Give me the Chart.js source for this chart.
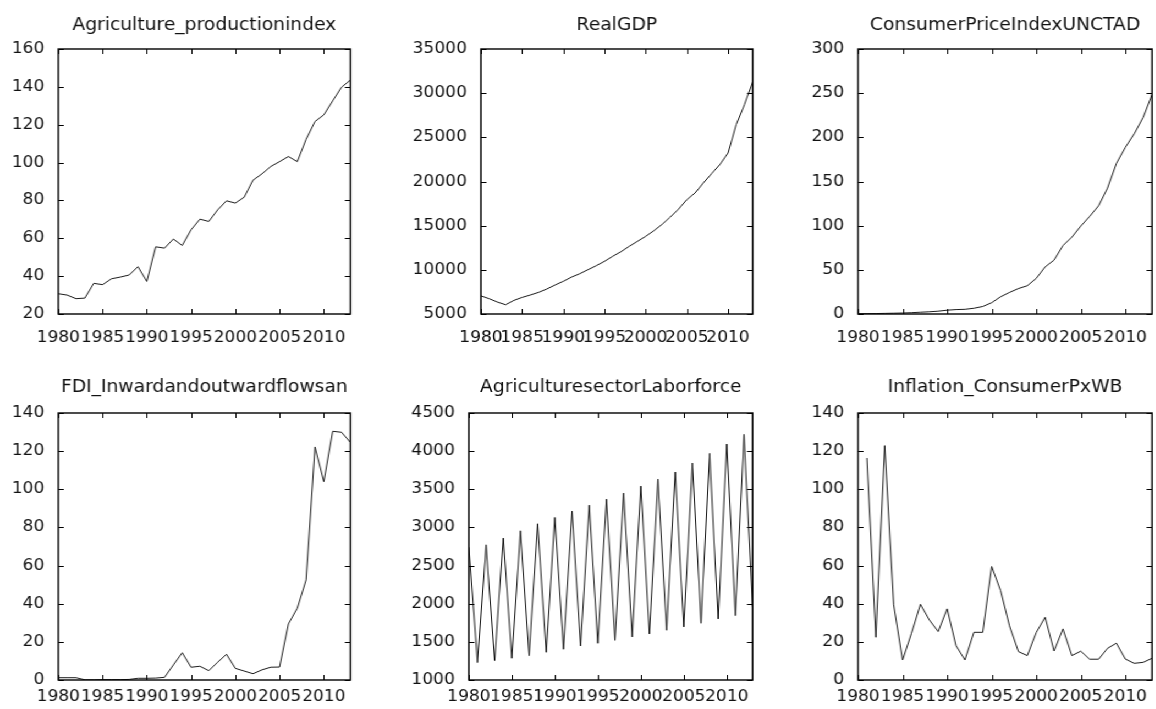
<!DOCTYPE html>
<html>
<head>
<meta charset="utf-8">
<script src="https://cdn.jsdelivr.net/npm/chart.js@4.4.1/dist/chart.umd.min.js"></script>
<style>
  html, body { margin: 0; padding: 0; background: #ffffff; }
  body { width: 1156px; height: 709px; position: relative; overflow: hidden; }
  #stage { position: absolute; left: 0; top: 0; height: 709px; transform-origin: 0 0; }
  .panel { position: absolute; }
</style>
</head>
<body>
<div id="stage">
<div class="panel" id="p1"><canvas id="c1"></canvas></div>
<div class="panel" id="p2"><canvas id="c2"></canvas></div>
<div class="panel" id="p3"><canvas id="c3"></canvas></div>
<div class="panel" id="p4"><canvas id="c4"></canvas></div>
<div class="panel" id="p5"><canvas id="c5"></canvas></div>
<div class="panel" id="p6"><canvas id="c6"></canvas></div>
</div>
<script>
// ---------- DATA ----------
const years = [1980,1981,1982,1983,1984,1985,1986,1987,1988,1989,1990,1991,1992,1993,1994,1995,1996,1997,1998,1999,2000,2001,2002,2003,2004,2005,2006,2007,2008,2009,2010,2011,2012,2013];
const xTickLabels = [1980,1985,1990,1995,2000,2005,2010];

const titles = ["Agriculture_productionindex","RealGDP","ConsumerPriceIndexUNCTAD","FDI_Inwardandoutwardflowsan","AgriculturesectorLaborforce","Inflation_ConsumerPxWB"];

const agricultureProductionIndex = [30.7,30.0,28.1,28.4,36.2,35.5,38.6,39.5,40.6,45.0,37.2,55.5,54.8,59.6,56.2,64.5,70.1,68.9,75.0,79.8,78.6,81.7,90.7,94.0,97.9,100.5,103.2,100.5,112.3,121.7,125.2,132.6,139.8,143.6];
const realGDP = [7050,6730,6350,6050,6540,6880,7150,7450,7830,8280,8700,9180,9560,10020,10470,10960,11530,12050,12660,13220,13790,14430,15150,15980,16880,17940,18700,19830,20880,21900,23220,26430,28700,31260];
const consumerPriceIndex = [0.3,0.4,0.5,0.7,0.9,1.1,1.5,2.0,2.5,3.2,4.3,5.0,5.3,6.5,8.5,12.8,19.5,24.4,28.8,32.0,40.3,53.3,61.0,77.5,87.0,99.5,110.5,122.5,142.5,170.5,188.6,204.0,222.5,248.6];
const fdiFlows = [1.2,1.2,1.2,0.1,0.1,0.2,0.2,0.2,0.3,0.9,0.9,1.0,1.4,7.9,14.3,6.7,7.2,4.9,9.3,13.5,6.1,4.7,3.3,5.3,6.7,6.8,29.4,37.6,52.5,122.2,104.0,130.4,129.9,124.6];
const agricultureLaborforce = [2740,1228,2772,1255,2860,1285,2956,1319,3048,1363,3131,1403,3214,1446,3292,1481,3371,1520,3450,1564,3542,1604,3634,1652,3726,1696,3844,1744,3971,1801,4093,1844,4220,1963];
const inflationConsumerPx = [null,116.4,22.4,122.9,39.4,10.5,24.5,39.7,31.5,25.4,37.3,18.0,10.5,25.0,25.0,59.5,46.9,28.4,14.9,12.8,24.9,32.9,15.2,26.8,12.8,15.1,10.9,10.9,16.6,19.3,11.0,8.75,9.25,11.4];

const yTicks1 = [20,40,60,80,100,120,140,160];
const yTicks2 = [5000,10000,15000,20000,25000,30000,35000];
const yTicks3 = [0,50,100,150,200,250,300];
const yTicks4 = [0,20,40,60,80,100,120,140];
const yTicks5 = [1000,1500,2000,2500,3000,3500,4000,4500];
const yTicks6 = [0,20,40,60,80,100,120,140];

// ---------- LAYOUT (plot-area boxes, page pixels) ----------
const panels = [
  { id: 1, series: agricultureProductionIndex, yTicks: yTicks1, L: 58,  R: 350,  T: 49,  B: 314, xPad: 15, tTop: 11.3, tBot: 13.3 },
  { id: 2, series: realGDP,                    yTicks: yTicks2, L: 481, R: 752,  T: 49,  B: 314, xPad: 15, tTop: 11.3, tBot: 13.3 },
  { id: 3, series: consumerPriceIndex,         yTicks: yTicks3, L: 858, R: 1152, T: 49,  B: 314, xPad: 15, tTop: 11.3, tBot: 13.3 },
  { id: 4, series: fdiFlows,                   yTicks: yTicks4, L: 58,  R: 350,  T: 413, B: 680, xPad: 8,  tTop: 9.8,  tBot: 14.8 },
  { id: 5, series: agricultureLaborforce,      yTicks: yTicks5, L: 469, R: 752,  T: 413, B: 680, xPad: 8,  tTop: 9.8,  tBot: 14.8 },
  { id: 6, series: inflationConsumerPx,        yTicks: yTicks6, L: 858, R: 1152, T: 413, B: 680, xPad: 8,  tTop: 9.8,  tBot: 14.8 }
];

const SX = 1.1;               // horizontal stretch of the rendered figure
const YW = 70;                // y-axis box width (mirrored by an empty right axis)
const TITLE_H = 45, XAXIS_H = 30;
const FONT = "'DejaVu Sans', Verdana, sans-serif";
const TEXT = '#111111';

const stage = document.getElementById('stage');
stage.style.width = Math.ceil(1156 / SX) + 'px';
stage.style.transform = 'scaleX(' + SX + ')';

const framePlugin = {
  id: 'frameTicks',
  afterDatasetsDraw(chart) {
    const { ctx, chartArea: a, scales } = chart;
    const tl = 5;
    ctx.save();
    ctx.strokeStyle = '#000';
    ctx.lineWidth = 1;
    ctx.beginPath();
    scales.x.ticks.forEach(t => {
      const px = Math.round(scales.x.getPixelForValue(t.value)) + 0.5;
      ctx.moveTo(px, a.bottom); ctx.lineTo(px, a.bottom - tl);
      ctx.moveTo(px, a.top);    ctx.lineTo(px, a.top + tl);
    });
    scales.y.ticks.forEach(t => {
      const py = Math.round(scales.y.getPixelForValue(t.value)) + 0.5;
      ctx.moveTo(a.left, py);  ctx.lineTo(a.left + tl, py);
      ctx.moveTo(a.right, py); ctx.lineTo(a.right - tl, py);
    });
    ctx.stroke();
    ctx.lineWidth = 1.4;
    ctx.strokeRect(a.left, a.top, a.right - a.left, a.bottom - a.top);
    ctx.restore();
  }
};

panels.forEach((p, i) => {
  const div = document.getElementById('p' + p.id);
  const Lc = p.L / SX, Rc = p.R / SX;
  const left = Lc - YW;
  const top = p.T - TITLE_H;
  const w = (Rc - Lc) + 2 * YW;
  const h = TITLE_H + (p.B - p.T) + XAXIS_H;
  div.style.left = left + 'px';
  div.style.top = top + 'px';
  div.style.width = w + 'px';
  div.style.height = h + 'px';
  const yMin = p.yTicks[0], yMax = p.yTicks[p.yTicks.length - 1];

  new Chart(document.getElementById('c' + p.id), {
    type: 'line',
    data: {
      labels: years,
      datasets: [{
        data: years.map((yr, k) => ({ x: yr, y: p.series[k] })),
        borderColor: '#000',
        borderWidth: 0.9,
        pointRadius: 0,
        tension: 0,
        fill: false,
        spanGaps: false,
        xAxisID: 'x',
        yAxisID: 'y'
      }]
    },
    options: {
      responsive: true,
      maintainAspectRatio: false,
      animation: false,
      devicePixelRatio: 1,
      layout: { padding: 0 },
      plugins: {
        legend: { display: false },
        tooltip: { enabled: false },
        title: {
          display: true,
          text: titles[i],
          color: TEXT,
          font: { family: FONT, size: 17, weight: 'normal', lineHeight: 1.2 },
          padding: { top: p.tTop, bottom: p.tBot }
        }
      },
      scales: {
        x: {
          type: 'linear',
          min: 1980,
          max: 2013,
          grid: { display: false, drawTicks: false },
          border: { display: false },
          afterBuildTicks: s => { s.ticks = xTickLabels.map(v => ({ value: v })); },
          afterFit: s => { s.height = XAXIS_H; },
          ticks: {
            autoSkip: false, maxRotation: 0, minRotation: 0,
            padding: p.xPad,
            color: TEXT,
            font: { family: FONT, size: 15.5 },
            callback: v => String(v)
          }
        },
        y: {
          type: 'linear',
          position: 'left',
          min: yMin,
          max: yMax,
          grid: { display: false, drawTicks: false },
          border: { display: false },
          afterBuildTicks: s => { s.ticks = p.yTicks.map(v => ({ value: v })); },
          afterFit: s => { s.width = YW; },
          ticks: {
            padding: 12.7,
            color: TEXT,
            font: { family: FONT, size: 15.5 },
            callback: v => String(v)
          }
        },
        yRight: {
          type: 'linear',
          position: 'right',
          min: yMin,
          max: yMax,
          grid: { display: false, drawTicks: false },
          border: { display: false },
          afterFit: s => { s.width = YW; },
          ticks: { display: false }
        }
      }
    },
    plugins: [framePlugin]
  });
});
</script>
</body>
</html>
